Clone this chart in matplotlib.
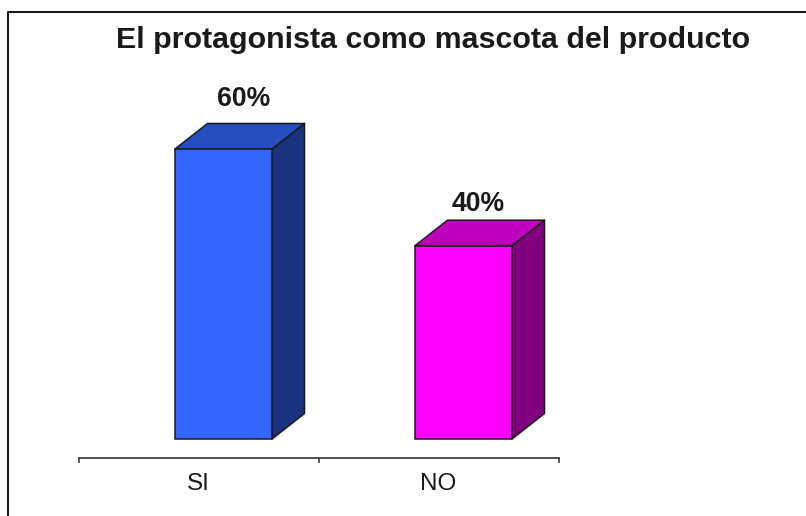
import matplotlib
matplotlib.use("Agg")
import matplotlib.pyplot as plt
from matplotlib.patches import Polygon, Rectangle

categories = ["SI", "NO"]
values = [60, 40]
labels = ["60%", "40%"]
title = "El protagonista como mascota del producto"
front = ["#3366FF", "#FF00FF"]
top = ["#264DBF", "#BF00BF"]
side = ["#1A3380", "#800080"]

W, H = 806, 516
plt.rcParams["font.family"] = ["Liberation Sans", "DejaVu Sans"]
fig = plt.figure(figsize=(W / 100, H / 100), dpi=100)
fig.patch.set_facecolor("white")

# figure frame, running off the right and bottom edges
ink = "#1a1a1a"
fig.add_artist(plt.Line2D([8.0 / W, 8.0 / W, 1], [0, 1 - 12 / H, 1 - 12 / H],
                          color=ink, lw=1.5, transform=fig.transFigure))

x0, x1, ybase = 78.5, 558.5, 457.5
ppv = 290 / 60          # pixels per percent
floor_px = 18.5         # front-face floor above the axis line
top_px = 70
ax = fig.add_axes([x0 / W, 1 - ybase / H, (x1 - x0) / W, (ybase - top_px) / H])
ax.set_xlim(0, 480)
ax.set_ylim(-floor_px / ppv, (ybase - top_px - floor_px) / ppv)
ax.patch.set_alpha(0)
for s in ("top", "left", "right"):
    ax.spines[s].set_visible(False)
ax.spines["bottom"].set_color("#333333")
ax.spines["bottom"].set_linewidth(1.2)
ax.set_yticks([])
ax.set_xticks([0, 240, 480])
ax.set_xticklabels([])
ax.tick_params(axis="x", length=3.5, width=1.1, color="#333333")

bar_w, dx, dy = 97, 32.5, 25.5 / ppv
shift = 25 + 120
lw = 1.1
for i, (v, lab, cat) in enumerate(zip(values, labels, categories)):
    l = 240 * i + shift - bar_w / 2
    r = l + bar_w
    ax.add_patch(Polygon([(r, 0), (r + dx, dy), (r + dx, v + dy), (r, v)], closed=True,
                         fc=side[i], ec=ink, lw=lw, joinstyle="round"))
    ax.add_patch(Polygon([(l, v), (r, v), (r + dx, v + dy), (l + dx, v + dy)], closed=True,
                         fc=top[i], ec=ink, lw=lw, joinstyle="round"))
    ax.add_patch(Rectangle((l, 0), bar_w, v, fc=front[i], ec=ink, lw=lw))
    ax.annotate(lab, xy=(l + bar_w / 2 + dx / 2 + (4 if i == 0 else -2), v + dy), xytext=(0, 25 if i == 0 else 16),
                textcoords="offset pixels", ha="center", va="center",
                fontsize=19.2, fontweight="bold", color=ink)
    ax.annotate(cat, xy=(240 * i + 120, 0), xycoords=("data", "axes fraction"),
                xytext=(0, -27), textcoords="offset pixels", ha="center", va="center",
                fontsize=17.5, color=ink)

fig.text(433.5 / W, 1 - 39.5 / H, title, ha="center", va="center",
         fontsize=21.9, fontweight="bold", color=ink)
fig.savefig("out.png", dpi=100, facecolor="white")
